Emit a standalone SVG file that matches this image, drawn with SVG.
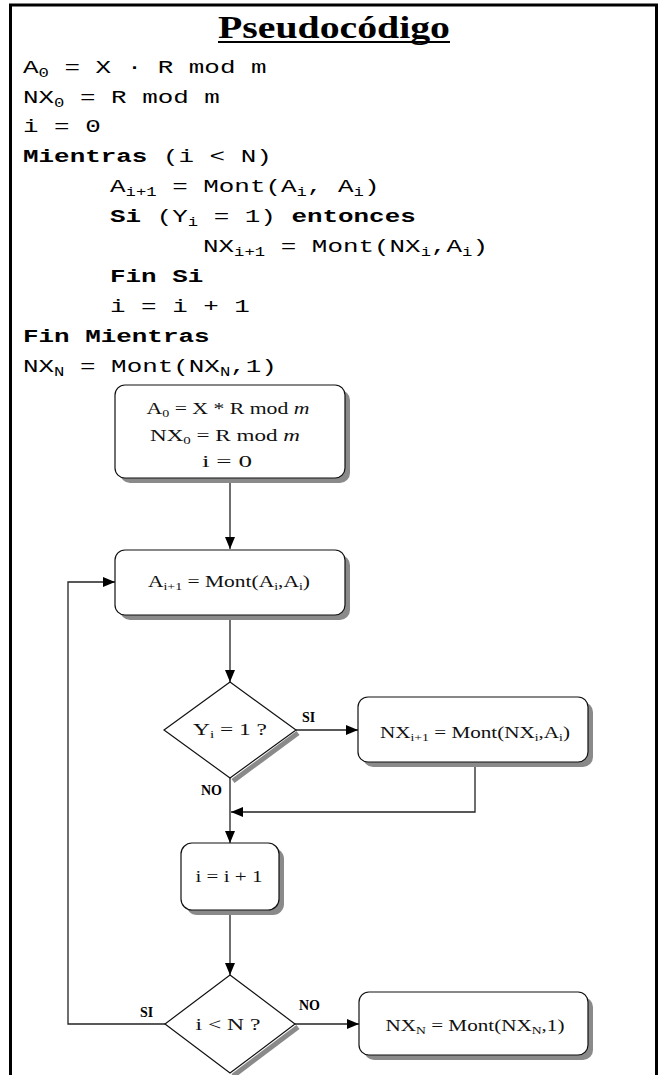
<svg xmlns="http://www.w3.org/2000/svg" width="660" height="1075" viewBox="0 0 660 1075">
<style>
.mono{font-family:"Liberation Mono","DejaVu Sans Mono",monospace;font-size:18px;fill:#000;white-space:pre}
.b{font-weight:bold}
.sb{font-size:12px}
.fc{font-family:"Liberation Serif","DejaVu Serif",serif;font-size:17px;fill:#111;text-anchor:middle}
.fs{font-size:11px}
.lbl{font-family:"Liberation Serif","DejaVu Serif",serif;font-weight:bold;font-size:14px;fill:#000}
.box{fill:#fff;stroke:#111;stroke-width:1.2}
.shd{fill:#8a8a8a}
.dshd{fill:none;stroke:#8a8a8a;stroke-width:5}
.cn{fill:none;stroke:#222;stroke-width:1.3}
.title{font-family:"Liberation Serif","DejaVu Serif",serif;font-weight:bold;font-size:31px;fill:#000;text-anchor:middle}
</style>
<defs>
<marker id="ah" viewBox="0 0 12 10" refX="12" refY="5" markerWidth="12" markerHeight="10" markerUnits="userSpaceOnUse" orient="auto">
<path d="M0,0 L12,5 L0,10 z" fill="#000"/>
</marker>
</defs>
<rect x="0" y="0" width="660" height="1075" fill="#fff"/>
<rect id="frame" x="10.5" y="5" width="646" height="1100" fill="none" stroke="#000" stroke-width="3"/>

<g id="title">
<text class="title" x="334" y="38" textLength="232" lengthAdjust="spacingAndGlyphs">Pseudocódigo</text>
<rect x="218" y="41" width="232" height="2" fill="#000"/>
</g>

<g id="pseudocode" transform="scale(1.44 1)">
<text class="mono" x="16" y="73" xml:space="preserve">A<tspan class="sb" dy="4">0</tspan><tspan dy="-4"> = X · R mod m</tspan></text>
<text class="mono" x="16" y="103" xml:space="preserve">NX<tspan class="sb" dy="4">0</tspan><tspan dy="-4"> = R mod m</tspan></text>
<text class="mono" x="16" y="132" xml:space="preserve">i = 0</text>
<text class="mono" x="16" y="162" xml:space="preserve"><tspan class="b">Mientras</tspan> (i &lt; N)</text>
<text class="mono" x="76.4" y="192" xml:space="preserve">A<tspan class="sb" dy="4">i+1</tspan><tspan dy="-4"> = Mont(A</tspan><tspan class="sb" dy="4">i</tspan><tspan dy="-4">, A</tspan><tspan class="sb" dy="4">i</tspan><tspan dy="-4">)</tspan></text>
<text class="mono" x="76.4" y="222" xml:space="preserve"><tspan class="b">Si</tspan> (Y<tspan class="sb" dy="4">i</tspan><tspan dy="-4"> = 1) </tspan><tspan class="b">entonces</tspan></text>
<text class="mono" x="141" y="252" xml:space="preserve">NX<tspan class="sb" dy="4">i+1</tspan><tspan dy="-4"> = Mont(NX</tspan><tspan class="sb" dy="4">i</tspan><tspan dy="-4">,A</tspan><tspan class="sb" dy="4">i</tspan><tspan dy="-4">)</tspan></text>
<text class="mono b" x="76.4" y="282" xml:space="preserve">Fin Si</text>
<text class="mono" x="76.4" y="312" xml:space="preserve">i = i + 1</text>
<text class="mono b" x="16" y="342" xml:space="preserve">Fin Mientras</text>
<text class="mono" x="16" y="372" xml:space="preserve">NX<tspan class="sb" dy="4">N</tspan><tspan dy="-4"> = Mont(NX</tspan><tspan class="sb" dy="4">N</tspan><tspan dy="-4">,1)</tspan></text>
</g>

<g id="connectors">
<path class="cn" d="M230,478 L230,549" marker-end="url(#ah)"/>
<path class="cn" d="M230,615 L230,682" marker-end="url(#ah)"/>
<path class="cn" d="M296,730 L358,730" marker-end="url(#ah)"/>
<path class="cn" d="M475,762 L475,812 L231,812" marker-end="url(#ah)"/>
<path class="cn" d="M230,778 L230,843" marker-end="url(#ah)"/>
<path class="cn" d="M230,910 L230,975" marker-end="url(#ah)"/>
<path class="cn" d="M165,1024 L68,1024 L68,582 L115,582" marker-end="url(#ah)"/>
<path class="cn" d="M295,1024 L359,1024" marker-end="url(#ah)"/>
<text class="lbl" x="302" y="722">SI</text>
<text class="lbl" x="201" y="795">NO</text>
<text class="lbl" x="140" y="1017">SI</text>
<text class="lbl" x="299" y="1010">NO</text>
</g>

<g id="init">
<rect class="shd" x="120" y="390" width="230" height="93" rx="10"/>
<rect class="box" x="115" y="385" width="230" height="93" rx="10"/>
<text class="fc" x="228" y="414" textLength="163" lengthAdjust="spacingAndGlyphs">A<tspan class="fs" dy="3">0</tspan><tspan dy="-3"> = X * R mod </tspan><tspan font-style="italic">m</tspan></text>
<text class="fc" x="225" y="441" textLength="150" lengthAdjust="spacingAndGlyphs">NX<tspan class="fs" dy="3">0</tspan><tspan dy="-3"> = R mod </tspan><tspan font-style="italic">m</tspan></text>
<text class="fc" x="227" y="467" textLength="50" lengthAdjust="spacingAndGlyphs">i = 0</text>
</g>

<g id="square">
<rect class="shd" x="120" y="555" width="230" height="65" rx="10"/>
<rect class="box" x="115" y="550" width="230" height="65" rx="10"/>
<text class="fc" x="229" y="587" textLength="162" lengthAdjust="spacingAndGlyphs">A<tspan class="fs" dy="3">i+1</tspan><tspan dy="-3"> = Mont(A</tspan><tspan class="fs" dy="3">i</tspan><tspan dy="-3">,A</tspan><tspan class="fs" dy="3">i</tspan><tspan dy="-3">)</tspan></text>
</g>

<g id="cond1">
<line class="dshd" x1="298" y1="733" x2="233" y2="781"/>
<polygon class="box" points="230,682 296,730 230,778 164,730"/>
<text class="fc" x="230" y="735" textLength="74" lengthAdjust="spacingAndGlyphs">Y<tspan class="fs" dy="3">i</tspan><tspan dy="-3"> = 1 ?</tspan></text>
</g>

<g id="multiply">
<rect class="shd" x="363" y="702" width="230" height="65" rx="10"/>
<rect class="box" x="358" y="697" width="230" height="65" rx="10"/>
<text class="fc" x="475" y="738" textLength="190" lengthAdjust="spacingAndGlyphs">NX<tspan class="fs" dy="3">i+1</tspan><tspan dy="-3"> = Mont(NX</tspan><tspan class="fs" dy="3">i</tspan><tspan dy="-3">,A</tspan><tspan class="fs" dy="3">i</tspan><tspan dy="-3">)</tspan></text>
</g>

<g id="increment">
<rect class="shd" x="186" y="848" width="98" height="67" rx="11"/>
<rect class="box" x="181" y="843" width="98" height="67" rx="11"/>
<text class="fc" x="229" y="882" textLength="67" lengthAdjust="spacingAndGlyphs">i = i + 1</text>
</g>

<g id="cond2">
<line class="dshd" x1="298" y1="1027" x2="233" y2="1076"/>
<polygon class="box" points="230,975 295,1024 230,1073 165,1024"/>
<text class="fc" x="228" y="1030" textLength="65" lengthAdjust="spacingAndGlyphs">i &lt; N ?</text>
</g>

<g id="final">
<rect class="shd" x="364" y="997" width="229" height="63" rx="10"/>
<rect class="box" x="359" y="992" width="229" height="63" rx="10"/>
<text class="fc" x="475" y="1031" textLength="179" lengthAdjust="spacingAndGlyphs">NX<tspan class="fs" dy="3">N</tspan><tspan dy="-3"> = Mont(NX</tspan><tspan class="fs" dy="3">N</tspan><tspan dy="-3">,1)</tspan></text>
</g>
</svg>
